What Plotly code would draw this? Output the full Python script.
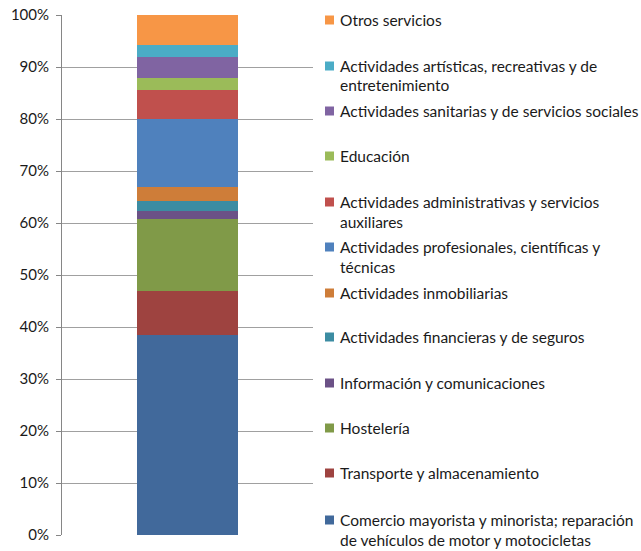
import plotly.graph_objects as go

# Sector shares (%), listed from the bottom of the stack to the top
sectors = [
    "Comercio mayorista y minorista; reparación<br>de vehículos de motor y motocicletas",
    "Transporte y almacenamiento",
    "Hostelería",
    "Información y comunicaciones",
    "Actividades financieras y de seguros",
    "Actividades inmobiliarias",
    "Actividades profesionales, científicas y<br>técnicas",
    "Actividades administrativas y servicios<br>auxiliares",
    "Educación",
    "Actividades sanitarias y de servicios sociales",
    "Actividades artísticas, recreativas y de<br>entretenimiento",
    "Otros servicios",
]
shares = [38.5, 8.5, 13.7, 1.6, 1.9, 2.7, 13.05, 5.65, 2.3, 4.05, 2.2, 5.85]
colors = [
    "#41699B", "#9E4340", "#809A48", "#6B5186", "#3C8CA2", "#CE7D39",
    "#4F81BD", "#C0504D", "#9BBB59", "#8064A2", "#4BACC6", "#F79646",
]
y_ticks = list(range(0, 101, 10))
y_tick_text = [f"{v}%" for v in y_ticks]

# Figure geometry (pixels)
W, H = 641, 551
ML, MR, MT, MB = 62, 328, 15, 16
PW, PH = W - ML - MR, H - MT - MB


def px_x(x):
    return (x - ML) / PW


def px_y(y):
    return (H - MB - y) / PH


fig = go.Figure()
for name, val, col in zip(sectors, shares, colors):
    fig.add_trace(go.Bar(
        x=[0], y=[val], name=name.replace("<br>", " "),
        marker=dict(color=col, line=dict(width=0)),
        width=0.402, showlegend=False,
    ))

# Legend drawn at the right, top entry first
legend_rows = [520, 473, 428, 383, 337, 293, 247, 202, 156, 111, 66, 20]
font = dict(family="Lato, 'Open Sans', sans-serif", size=15.5, color="#1a1a1a")
shapes = []
annotations = []
for name, col, yc in zip(sectors, colors, legend_rows):
    shapes.append(dict(
        type="rect", xref="paper", yref="paper",
        x0=px_x(325), x1=px_x(334), y0=px_y(yc + 4.5), y1=px_y(yc - 4.5),
        fillcolor=col, line=dict(width=0),
    ))
    for i, line in enumerate(name.split("<br>")):
        annotations.append(dict(
            text=line, xref="paper", yref="paper",
            x=px_x(338), y=px_y(yc + i * 19.5),
            xanchor="left", yanchor="middle", showarrow=False, font=font,
        ))

fig.update_layout(
    width=W, height=H,
    margin=dict(l=ML, r=MR, t=MT, b=MB, autoexpand=False),
    paper_bgcolor="white", plot_bgcolor="white",
    barmode="stack",
    shapes=shapes, annotations=annotations,
    xaxis=dict(range=[-0.5, 0.5], showticklabels=False, showgrid=False,
               zeroline=False, showline=False, fixedrange=True,
               automargin=False),
    yaxis=dict(
        range=[0, 100], tickvals=y_ticks, ticktext=y_tick_text,
        showgrid=True, gridcolor="#A0A0A0", gridwidth=1,
        zeroline=False, showline=True, linecolor="#868686", linewidth=1,
        ticks="outside", ticklen=5, tickcolor="#868686",
        tickfont=dict(family="Lato, 'Open Sans', sans-serif", size=15, color="#1a1a1a"),
        ticklabelstandoff=4, automargin=False,
    ),
    showlegend=False,
)

fig.write_html("out.html")
